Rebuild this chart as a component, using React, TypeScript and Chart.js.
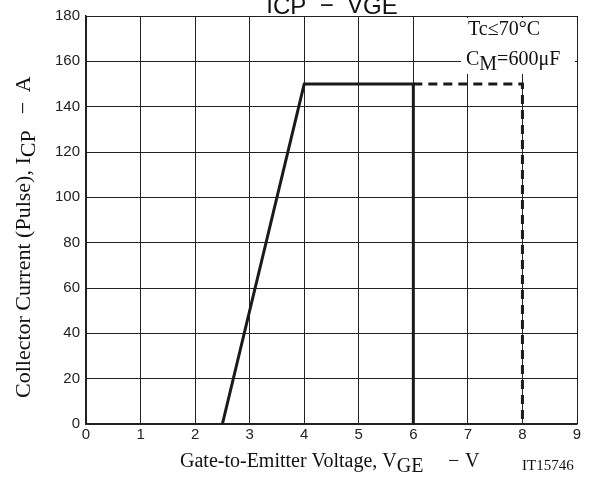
import React, { useEffect, useRef } from "react";
import { Chart, registerables } from "chart.js";

Chart.register(...registerables);

// Data
const xTicks = [0, 1, 2, 3, 4, 5, 6, 7, 8, 9];
const yTicks = [0, 20, 40, 60, 80, 100, 120, 140, 160, 180];
const solidX = [2.5, 4, 6, 6];
const solidY = [0, 150, 150, 0];
const dashedX = [6, 8, 8];
const dashedY = [150, 150, 0];

const SERIF = "'Liberation Serif', 'Times New Roman', serif";
const SANS = "'Liberation Sans', Arial, sans-serif";
const INK = "#222";

type Part = { t: string; dy?: number; x?: number };

function drawParts(ctx: CanvasRenderingContext2D, parts: Part[], x0: number, y0: number) {
  let x = x0;
  for (const p of parts) {
    if (p.x !== undefined) x = x0 + p.x;
    ctx.fillText(p.t, x, y0 + (p.dy || 0));
    x += ctx.measureText(p.t).width;
  }
}
function partsWidth(ctx: CanvasRenderingContext2D, parts: Part[]) {
  return parts.reduce((s, p) => s + ctx.measureText(p.t).width, 0);
}

const textPlugin = {
  id: "textPlugin",
  beforeDatasetsDraw(chart: any) {
    const ctx = chart.ctx as CanvasRenderingContext2D;
    ctx.save();
    ctx.fillStyle = "#fff";
    ctx.fillRect(461, 18, 114, 56);
    ctx.restore();
  },
  afterDraw(chart: any) {
    const ctx = chart.ctx as CanvasRenderingContext2D;
    ctx.save();
    ctx.fillStyle = "#111";
    ctx.textAlign = "left";
    ctx.textBaseline = "alphabetic";

    // Title (partially cut off at top)
    ctx.font = `24px ${SANS}`;
    const tParts: Part[] = [
      { t: "I" },
      { t: "CP", dy: 1 },
      { t: "  \u2212  " },
      { t: "V" },
      { t: "GE", dy: 1 },
    ];
    const tw = partsWidth(ctx, tParts);
    drawParts(ctx, tParts, 332 - tw / 2, 12.5);

    // Annotation
    ctx.font = `20px ${SERIF}`;
    drawParts(ctx, [{ t: "Tc\u226470\u00B0C" }], 468, 35);
    drawParts(ctx, [{ t: "C" }, { t: "M", dy: 5 }, { t: "=600\u03BCF" }], 466, 65);

    // X title
    ctx.font = `20px ${SERIF}`;
    drawParts(
      ctx,
      [
        { t: "Gate-to-Emitter Voltage, V" },
        { t: "GE", dy: 5 },
        { t: "\u2212", x: 268 },
        { t: "V", x: 285 },
      ],
      180,
      467
    );
    ctx.font = `15px ${SERIF}`;
    ctx.fillText("IT15746", 522, 470);

    // Y title
    ctx.font = `22px ${SERIF}`;
    ctx.translate(30, 398);
    ctx.rotate(-Math.PI / 2);
    const base: Part[] = [{ t: "Collector Current (Pulse), I" }, { t: "CP", dy: 5 }];
    const bw = partsWidth(ctx, base);
    drawParts(ctx, [...base, { t: "\u2212", x: bw + 16 }, { t: "A", x: bw + 38 }], 0, 0);
    ctx.restore();
  },
};

export default function App() {
  const ref = useRef<HTMLCanvasElement>(null);
  useEffect(() => {
    const canvas = ref.current!;
    const chart = new Chart(canvas, {
      type: "scatter",
      data: {
        datasets: [
          {
            data: solidX.map((x, i) => ({ x, y: solidY[i] })),
            showLine: true,
            borderColor: "#1a1a1a",
            borderWidth: 3,
            pointRadius: 0,
            fill: false,
          },
          {
            data: dashedX.map((x, i) => ({ x, y: dashedY[i] })),
            showLine: true,
            borderColor: "#1a1a1a",
            borderWidth: 3,
            borderDash: [9, 6],
            pointRadius: 0,
            fill: false,
          },
        ],
      },
      options: {
        animation: false,
        responsive: false,
        devicePixelRatio: 1,
        layout: { padding: { top: 16, right: 13, left: 0, bottom: 0 } },
        plugins: { legend: { display: false }, tooltip: { enabled: false }, title: { display: false } },
        scales: {
          x: {
            type: "linear",
            min: xTicks[0],
            max: xTicks[xTicks.length - 1],
            afterBuildTicks: (s: any) => {
              s.ticks = xTicks.map((v) => ({ value: v }));
            },
            afterFit: (s: any) => {
              s.height = 54;
            },
            ticks: { font: { family: SANS, size: 15 }, color: INK, padding: 2 },
            grid: { color: INK, lineWidth: 1, drawTicks: false },
            border: { color: INK, width: 1.5 },
          },
          y: {
            type: "linear",
            min: yTicks[0],
            max: yTicks[yTicks.length - 1],
            afterBuildTicks: (s: any) => {
              s.ticks = yTicks.map((v) => ({ value: v }));
            },
            afterFit: (s: any) => {
              s.width = 86;
            },
            ticks: { font: { family: SANS, size: 15 }, color: INK, padding: 6 },
            grid: { color: INK, lineWidth: 1, drawTicks: false },
            border: { color: INK, width: 1.5 },
          },
        },
      },
      plugins: [textPlugin],
    });
    return () => chart.destroy();
  }, []);
  return (
    <div style={{ position: "fixed", left: 0, top: 0, width: 590, height: 478, background: "#fff" }}>
      <canvas ref={ref} width={590} height={478} style={{ width: 590, height: 478, display: "block" }} />
    </div>
  );
}
